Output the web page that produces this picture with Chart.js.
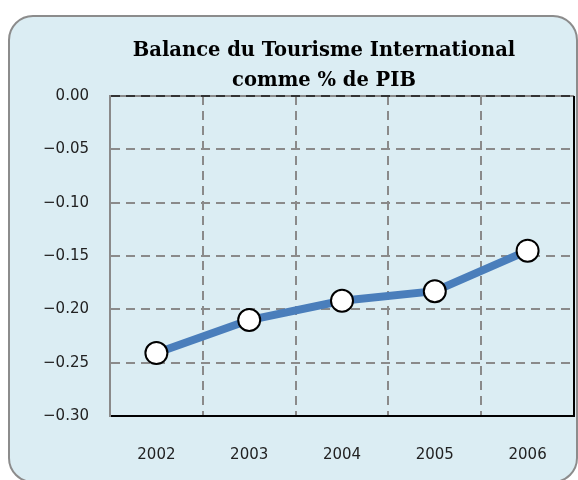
<!DOCTYPE html>
<html>
<head>
<meta charset="utf-8">
<script src="https://cdn.jsdelivr.net/npm/chart.js@4/dist/chart.umd.min.js"></script>
<style>
    html, body { margin: 0; padding: 0; background: #fff; }
    #wrap { width: 578px; height: 480px; }
</style>
</head>
<body>
<div id="wrap"><canvas id="chart" width="578" height="480"></canvas></div>
<script>
var years = ["2002", "2003", "2004", "2005", "2006"];
var balance = [-0.241, -0.210, -0.192, -0.183, -0.145];
var titleLines = ["Balance du Tourisme International", "comme % de PIB"];
var yMin = -0.30;
var yMax = 0.00;
var yStep = 0.05;

/**
 * Draws the rounded light blue panel and the frame of the plot area.
 */
var panelPlugin = {
    id: "panel",
    afterLayout: function (chart) {
        //The original title sits a little right of the panel centre.
        if (chart.titleBlock) {
            chart.titleBlock.left = 74;
        }
    },
    beforeDraw: function (chart) {
        var a = chart.chartArea;
        var ctx = chart.ctx;
        ctx.save();
        ctx.beginPath();
        ctx.roundRect(9, 16, 568, 466, 24);
        ctx.fillStyle = "#dbedf3";
        ctx.fill();
        ctx.lineWidth = 2;
        ctx.strokeStyle = "#8c8c8c";
        ctx.stroke();
        //Solid grey top edge, the dashed zero line is drawn over it.
        ctx.beginPath();
        ctx.moveTo(a.left, a.top);
        ctx.lineTo(a.right, a.top);
        ctx.strokeStyle = "#8a8a8a";
        ctx.stroke();
        ctx.restore();
    },
    beforeDatasetsDraw: function (chart) {
        var a = chart.chartArea;
        var ctx = chart.ctx;
        ctx.save();
        ctx.lineWidth = 2;
        ctx.strokeStyle = "#000";
        ctx.beginPath();
        ctx.moveTo(a.right, a.top);
        ctx.lineTo(a.right, a.bottom + 1);
        ctx.stroke();
        ctx.restore();
    }
};

var ctx = document.getElementById("chart").getContext("2d");
new Chart(ctx, {
    type: "line",
    data: {
        labels: years,
        datasets: [{
            data: balance,
            borderColor: "#4a7ebb",
            borderWidth: 8,
            pointRadius: 11,
            pointHoverRadius: 11,
            pointBackgroundColor: "#fff",
            pointBorderColor: "#000",
            pointBorderWidth: 2,
            tension: 0
        }]
    },
    options: {
        responsive: false,
        animation: false,
        layout: { autoPadding: false, padding: { left: 10, right: 4, top: 0, bottom: 0 } },
        plugins: {
            legend: { display: false },
            tooltip: { enabled: false },
            title: {
                display: true,
                text: titleLines,
                color: "#000",
                font: { family: "'DejaVu Serif'", size: 19.5, weight: "bold", lineHeight: "30px" },
                padding: { top: 36, bottom: 0 }
            }
        },
        scales: {
            x: {
                offset: true,
                grid: { offset: true, color: "#8a8a8a", lineWidth: 2, drawTicks: false },
                border: { color: "#000", width: 2, dash: [9, 6] },
                ticks: {
                    color: "#222",
                    padding: 30,
                    font: { family: "'DejaVu Sans'", size: 15 }
                },
                afterFit: function (scale) { scale.height = 64; }
            },
            y: {
                min: yMin,
                max: yMax,
                grid: {
                    color: function (c) { return c.tick && c.tick.value === 0 ? "#333" : "#8a8a8a"; },
                    lineWidth: 2,
                    drawTicks: false
                },
                border: { color: "#8a8a8a", width: 2, dash: [9, 6] },
                ticks: {
                    stepSize: yStep,
                    color: "#222",
                    padding: 21,
                    font: { family: "'DejaVu Sans'", size: 15 },
                    callback: function (v) {
                        return Number(v).toFixed(2).replace("-", "\u2212");
                    }
                },
                afterFit: function (scale) { scale.width = 100; }
            }
        }
    },
    plugins: [panelPlugin]
});
</script>
</body>
</html>
